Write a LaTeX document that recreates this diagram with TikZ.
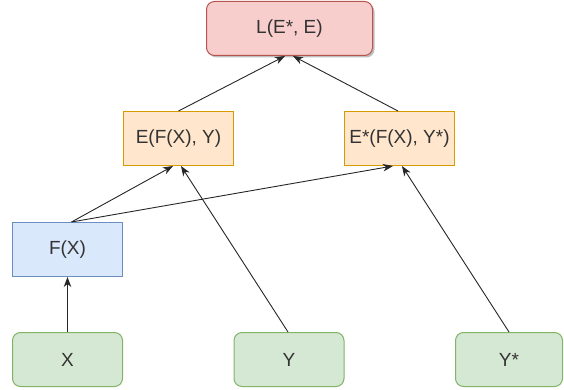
\documentclass[tikz,border=0pt]{standalone}
\usepackage{fontspec}
\setmainfont{Liberation Sans}
\usetikzlibrary{arrows.meta,shadows}
\definecolor{redfill}{HTML}{F8CECC}
\definecolor{redline}{HTML}{B85450}
\definecolor{orafill}{HTML}{FFE6CC}
\definecolor{oraline}{HTML}{D79B00}
\definecolor{bluefill}{HTML}{DAE8FC}
\definecolor{blueline}{HTML}{6C8EBF}
\definecolor{grnfill}{HTML}{D5E8D4}
\definecolor{grnline}{HTML}{82B366}
\definecolor{txt}{HTML}{333333}
\tikzset{
  box/.style={draw, line width=1pt, inner sep=0pt, text=txt,
    font=\fontsize{19}{22}\selectfont, minimum height=54pt},
  redbox/.style={box, fill=redfill, draw=redline, rounded corners=8pt, minimum width=166pt,
    drop shadow={shadow xshift=2pt, shadow yshift=-2pt, opacity=0.25, fill=black}},
  orabox/.style={box, fill=orafill, draw=oraline, minimum width=110pt},
  bluebox/.style={box, fill=bluefill, draw=blueline, minimum width=110pt},
  grnbox/.style={box, fill=grnfill, draw=grnline, rounded corners=8pt, minimum width=110pt},
  conn/.style={draw=black!85, line width=0.9pt, -{Stealth[length=10pt,width=7.5pt,inset=3pt]}},
}
\begin{document}
\begin{tikzpicture}[x=1pt,y=-1pt]
\useasboundingbox (0,0) rectangle (564,390);
\node[redbox] (L) at (289.5,28.5) {L(E*, E)};
\node[orabox] (E) at (178.5,138.5) {E(F(X), Y)};
\node[orabox] (Es) at (399.5,138.5) {E*(F(X), Y*)};
\node[bluebox] (F) at (67.5,249.5) {F(X)};
\node[grnbox] (X) at (67.5,359.5) {X};
\node[grnbox] (Y) at (289,359.5) {Y};
\node[grnbox, minimum width=107pt] (Ys) at (509,359.5) {Y*};
\draw[conn] (E.north) -- ([xshift=-4.5pt]L.south);
\draw[conn] ([xshift=-1.5pt]Es.north) -- ([xshift=3.5pt]L.south);
\draw[conn] ([xshift=4pt]F.north) -- ([xshift=-5.5pt]E.south);
\draw[conn] ([xshift=4pt]F.north) -- ([xshift=-6.5pt]Es.south);
\draw[conn] ([xshift=-1pt]Y.north) -- ([xshift=2.5pt]E.south);
\draw[conn] (Ys.north) -- ([xshift=2.5pt]Es.south);
\draw[conn, line width=1.3pt] (X.north) -- (F.south);
\end{tikzpicture}
\end{document}
